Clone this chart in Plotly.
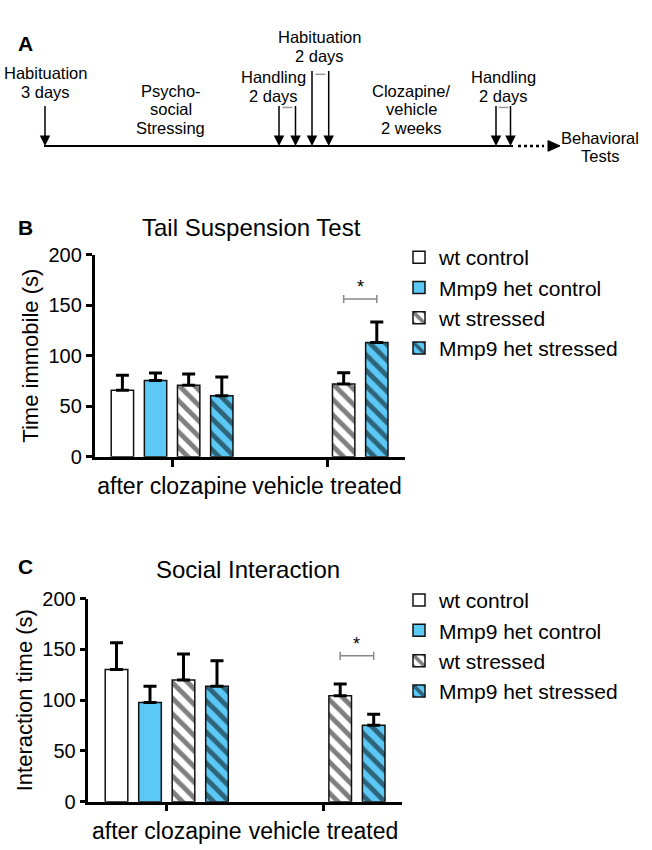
import plotly.graph_objects as go

# ---------------- data ----------------
categories = ["after clozapine", "vehicle treated"]
series_names = ["wt control", "Mmp9 het control", "wt stressed", "Mmp9 het stressed"]
y_ticks = [0, 50, 100, 150, 200]

# Tail Suspension Test: time immobile (s), mean and +SEM
tst_wt_control = [65.9, None]
tst_het_control = [75.5, None]
tst_wt_stressed = [70.7, 71.9]
tst_het_stressed = [60.4, 113.0]
tst_wt_control_err = [14.7, 0]
tst_het_control_err = [7.3, 0]
tst_wt_stressed_err = [11.2, 11.3]
tst_het_stressed_err = [18.6, 20.2]

# Social Interaction: interaction time (s), mean and +SEM
si_wt_control = [130.3, None]
si_het_control = [97.7, None]
si_wt_stressed = [120.0, 104.3]
si_het_stressed = [113.7, 75.3]
si_wt_control_err = [26.2, 0]
si_het_control_err = [16.0, 0]
si_wt_stressed_err = [25.6, 11.6]
si_het_stressed_err = [25.2, 10.8]

# significance brackets (y value of bracket, in data units)
tst_sig_level = [156]
si_sig_level = [143.7]

# timeline (panel A) texts
timeline_labels = [
    "Habituation\n3 days",
    "Psycho-\nsocial\nStressing",
    "Handling\n2 days",
    "Habituation\n2 days",
    "Clozapine/\nvehicle\n2 weeks",
    "Handling\n2 days",
    "Behavioral\nTests",
]

# ---------------- layout helpers ----------------
W, H = 652, 850
FONT = "Liberation Sans, Arial, Helvetica, sans-serif"
BLUE = "#5CC8F5"


def px(x):
    return x / W


def py(y):
    return 1 - y / H


BARGAP = 0.145
BARGROUPGAP = 0.325

fig = go.Figure()

styles = [
    dict(color="white", pattern=None),
    dict(color=BLUE, pattern=None),
    dict(color="white", pattern=dict(shape="\\", fgcolor="black", bgcolor="white", size=11, solidity=0.45)),
    dict(color=BLUE, pattern=dict(shape="\\", fgcolor="black", bgcolor=BLUE, size=11, solidity=0.45)),
]

panels = [
    ("x", "y", "legend",
     [tst_wt_control, tst_het_control, tst_wt_stressed, tst_het_stressed],
     [tst_wt_control_err, tst_het_control_err, tst_wt_stressed_err, tst_het_stressed_err]),
    ("x2", "y2", "legend2",
     [si_wt_control, si_het_control, si_wt_stressed, si_het_stressed],
     [si_wt_control_err, si_het_control_err, si_wt_stressed_err, si_het_stressed_err]),
]

for xa, ya, lg, means, errs in panels:
    for name, vals, err, st in zip(series_names, means, errs, styles):
        marker = dict(color=st["color"], line=dict(color="#111111", width=1.5))
        if st["pattern"] is not None:
            marker["pattern"] = st["pattern"]
        fig.add_trace(go.Bar(
            x=categories, y=vals, name=name, xaxis=xa, yaxis=ya, legend=lg,
            marker=marker,
            error_y=dict(type="data", symmetric=False, array=err,
                         arrayminus=[0] * len(err), color="black",
                         thickness=3, width=6.5),
        ))

axis_common = dict(showline=True, linecolor="black", linewidth=2.5,
                   ticks="outside", tickwidth=2.5, tickcolor="black",
                   showgrid=False, zeroline=False)

fig.update_layout(
    width=W, height=H, margin=dict(l=0, r=0, t=0, b=0),
    paper_bgcolor="white", plot_bgcolor="white",
    font=dict(family=FONT, color="black"),
    barmode="group", bargap=BARGAP, bargroupgap=BARGROUPGAP,
    xaxis=dict(domain=[px(94.6), px(404.6)], anchor="y", type="category",
               range=[-0.5, 1.5], ticklen=7, tickfont=dict(size=23), **axis_common),
    yaxis=dict(domain=[py(457.7), py(250)], anchor="x", range=[0, 200],
               tickvals=y_ticks, ticklen=6, tickfont=dict(size=20),
               title=dict(text="Time immobile (s)", font=dict(size=22), standoff=4),
               **axis_common),
    xaxis2=dict(domain=[px(88.4), px(401.8)], anchor="y2", type="category",
                range=[-0.5, 1.5], ticklen=7, tickfont=dict(size=23), **axis_common),
    yaxis2=dict(domain=[py(811.7), py(603.3)], anchor="x2", range=[0, 200],
                tickvals=y_ticks, ticklen=6, tickfont=dict(size=20),
                title=dict(text="Interaction time (s)", font=dict(size=22), standoff=4),
                **axis_common),
    legend=dict(x=px(399), y=py(232), xanchor="left", yanchor="top",
                font=dict(size=21, color="black"), bgcolor="rgba(0,0,0,0)",
                traceorder="normal"),
    legend2=dict(x=px(399), y=py(584), xanchor="left", yanchor="top",
                 font=dict(size=21, color="black"), bgcolor="rgba(0,0,0,0)",
                 traceorder="normal"),
    showlegend=True,
)

annotations = []
shapes = []

# panel letters and titles
for letter, cx, cy in [("A", 25, 33), ("B", 25, 222), ("C", 25, 570)]:
    annotations.append(dict(text="<b>%s</b>" % letter, x=px(cx), y=py(cy), xref="paper", yref="paper",
                            xanchor="center", yanchor="middle", showarrow=False,
                            font=dict(size=21, color="black")))
for title, cx, cy in [("Tail Suspension Test", 251, 222), ("Social Interaction", 248, 573)]:
    annotations.append(dict(text=title, x=px(cx), y=py(cy), xref="paper", yref="paper",
                            xanchor="center", yanchor="middle", showarrow=False,
                            font=dict(size=24, color="black")))

# significance brackets between the two stressed bars of the 2nd group
slot_w = (1 - BARGAP) / 4


def slot_center(cat_idx, slot):
    return cat_idx - (1 - BARGAP) / 2 + (slot + 0.5) * slot_w


for xr, yr, lvl, cap in [("x", "y", tst_sig_level[0], 4), ("x2", "y2", si_sig_level[0], 4)]:
    x0, x1 = slot_center(1, 2), slot_center(1, 3)
    gray = dict(color="#888888", width=1.5)
    shapes.append(dict(type="line", xref=xr, yref=yr, x0=x0, x1=x1, y0=lvl, y1=lvl, line=gray))
    for xx in (x0, x1):
        shapes.append(dict(type="line", xref=xr, yref=yr, x0=xx, x1=xx, y0=lvl - cap, y1=lvl + cap, line=gray))
    annotations.append(dict(text="*", x=(x0 + x1) / 2, y=lvl, xref=xr, yref=yr,
                            xanchor="center", yanchor="bottom", yshift=0, showarrow=False,
                            font=dict(size=18, color="black")))

# ---------------- panel A: timeline ----------------
line_y = 138.5
label_pos = [(45.5, 64), (170.5, 82), (273, 68), (319.5, 27), (411, 82), (503.5, 68), (600, 130)]
line_step = 19
for lab, (cx, cy) in zip(timeline_labels, label_pos):
    for k, part in enumerate(lab.split("\n")):
        annotations.append(dict(text=part, x=px(cx), y=py(cy + k * line_step), xref="paper", yref="paper",
                                xanchor="center", yanchor="middle", showarrow=False,
                                font=dict(size=16.5, color="black")))

# main line
shapes.append(dict(type="line", xref="paper", yref="paper", x0=px(44), x1=px(513),
                   y0=py(line_y), y1=py(line_y), line=dict(color="black", width=2)))
# dotted continuation
shapes.append(dict(type="line", xref="paper", yref="paper", x0=px(518), x1=px(544),
                   y0=py(line_y), y1=py(line_y), line=dict(color="black", width=2.5, dash="dot")))
# arrow head at the end
shapes.append(dict(type="path", xref="paper", yref="paper",
                   path="M %f,%f L %f,%f L %f,%f Z" % (px(548), py(line_y - 5.5), px(560), py(line_y),
                                                        px(548), py(line_y + 5.5)),
                   fillcolor="black", line=dict(color="black", width=1)))

# down arrows
arrow_specs = [(45, 97), (279, 97), (295.5, 97), (312, 62), (328.7, 62), (496, 97), (510.5, 97)]
for ax_, top in arrow_specs:
    annotations.append(dict(text="", x=px(ax_), y=py(line_y), xref="paper", yref="paper",
                            ax=0, ay=-(line_y - top), axref="pixel", ayref="pixel",
                            showarrow=True, arrowhead=2, arrowsize=1.4, arrowwidth=1.5,
                            arrowcolor="black", standoff=0, startstandoff=0))

# small gray dashes between paired arrows
for x0, x1, yy in [(282.5, 292.5, 99), (315.5, 325.5, 65), (498.5, 508.5, 99)]:
    shapes.append(dict(type="line", xref="paper", yref="paper", x0=px(x0), x1=px(x1),
                       y0=py(yy), y1=py(yy), line=dict(color="#999999", width=1.5)))

fig.update_layout(annotations=annotations, shapes=shapes)

fig.write_html(
    "out.html",
    config={"displayModeBar": False},
    post_script="document.body.style.margin='0';document.body.style.overflow='hidden';",
)
